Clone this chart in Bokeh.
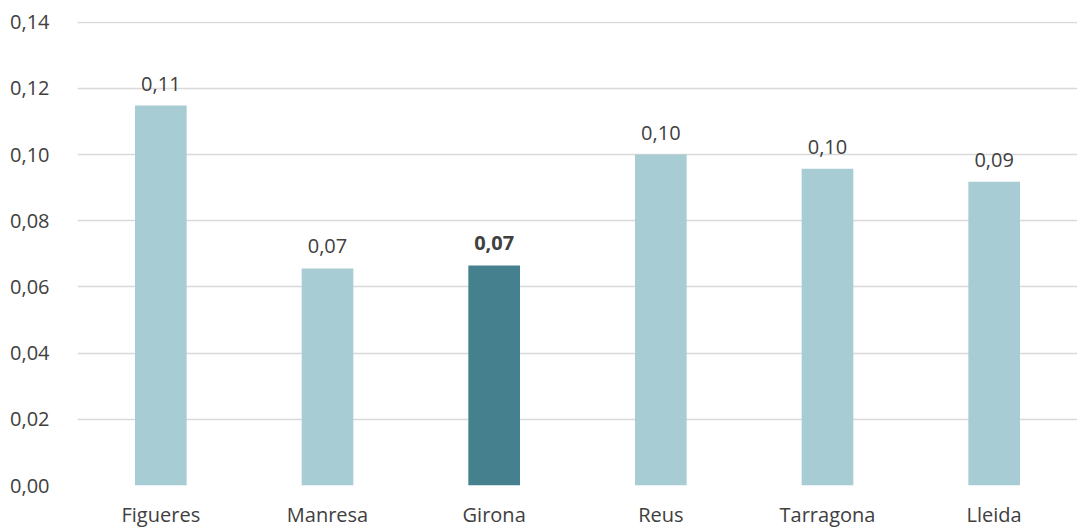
from bokeh.plotting import figure
from bokeh.models import ColumnDataSource, FactorRange, Range1d, FixedTicker
from bokeh.core.properties import value
from bokeh.embed import file_html
from bokeh.resources import INLINE

cities = ["Figueres", "Manresa", "Girona", "Reus", "Tarragona", "Lleida"]
values = [0.1148, 0.0656, 0.0665, 0.1000, 0.0957, 0.0918]
highlight = "Girona"
y_ticks = [0.00, 0.02, 0.04, 0.06, 0.08, 0.10, 0.12, 0.14]

LIGHT = "#A8CCD4"
DARK = "#45808E"
TXT = "#404040"
FONT = "Open Sans"
FS = "20px"

colors = [DARK if c == highlight else LIGHT for c in cities]
labels = [f"{v:.2f}".replace(".", ",") for v in values]
weights = ["bold" if c == highlight else "normal" for c in cities]

src = ColumnDataSource(dict(x=cities, top=values, color=colors, label=labels, weight=weights))

p = figure(width=1077, height=530, output_backend="svg", toolbar_location=None,
           x_range=FactorRange(*cities, range_padding=0), y_range=Range1d(0, 0.1402),
           min_border_left=77, min_border_right=0, min_border_top=21, min_border_bottom=40)
p.outline_line_color = None
p.background_fill_color = "white"
p.border_fill_color = "white"

p.vbar(x="x", top="top", width=0.31, color="color", source=src, line_color=None)
p.text(x="x", y="top", text="label", source=src, text_align="center", text_baseline="bottom",
       y_offset=-15, text_font=value(FONT), text_font_size=FS, text_color=TXT,
       text_font_style="weight")

p.yaxis.ticker = FixedTicker(ticks=y_ticks)
p.yaxis.major_label_overrides = {t: f"{t:.2f}".replace(".", ",") for t in y_ticks}
for ax in (p.xaxis, p.yaxis):
    ax.axis_line_color = None
    ax.major_tick_line_color = None
    ax.minor_tick_line_color = None
    ax.major_label_text_font = FONT
    ax.major_label_text_font_size = FS
    ax.major_label_text_color = TXT
p.yaxis.major_label_standoff = 22
p.xaxis.major_label_standoff = 9
p.xgrid.grid_line_color = None
p.ygrid.grid_line_color = "#D9D9D9"
p.ygrid.grid_line_width = 1.5
p.ygrid.ticker = FixedTicker(ticks=y_ticks)

open("out.html", "w").write(file_html(p, INLINE))
